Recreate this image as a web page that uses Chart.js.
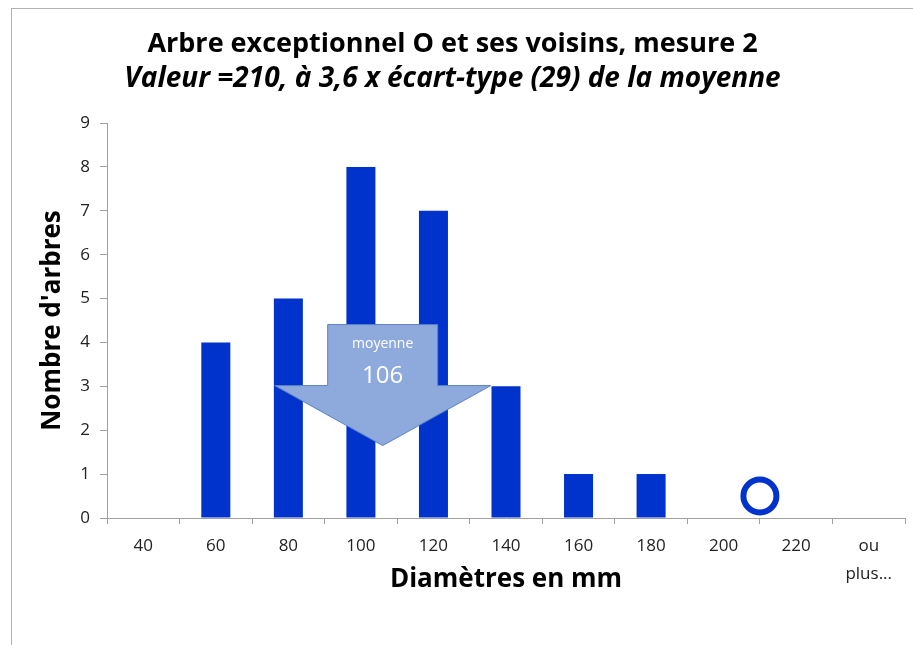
<!DOCTYPE html>
<html lang="fr">
<head>
    <meta charset="utf-8">
    <title>Arbre exceptionnel et ses voisins</title>
    <script src="https://cdn.jsdelivr.net/npm/chart.js"></script>
    <style>
        body { margin: 0; background: #fff; }
        #wrap { width: 913px; height: 645px; }
    </style>
</head>
<body>
<div id="wrap"><canvas id="chartCanvas" width="913" height="645"></canvas></div>
<script>
    // classes de diamètres (mm) et nombre d'arbres par classe
    const classLabels = ['40', '60', '80', '100', '120', '140', '160', '180', '200', '220', ['ou', 'plus...']];
    const treeCounts = [0, 4, 5, 8, 7, 3, 1, 1, 0, 0, 0];
    const yMax = 9;

    // arbre exceptionnel (le rond) et moyenne (la flèche)
    const outlierDiam = 210;
    const outlierY = 0.5;
    const meanDiam = 106;
    const meanArrowTip = 1.65;   // hauteur de la pointe de la flèche, en nombre d'arbres

    // bornes de l'axe continu caché (centres des classes 40..240, pas de 20)
    const diamMin = 30;
    const diamMax = 250;

    const FONT = '"Open Sans", sans-serif';
    const BLUE = '#0033cc';
    const GREY = '#a0a0a0';

    // fond blanc + cadre gris
    const framePlugin = {
        id: 'frame',
        beforeDraw(chart) {
            const ctx = chart.ctx;
            ctx.save();
            ctx.fillStyle = '#fff';
            ctx.fillRect(0, 0, chart.width, chart.height);
            ctx.strokeStyle = '#b0b0b0';
            ctx.lineWidth = 1;
            ctx.strokeRect(11.5, 8.5, chart.width + 10, chart.height + 10);
            ctx.restore();
        }
    };

    // flèche "moyenne" posée sur l'axe continu
    const arrowPlugin = {
        id: 'meanArrow',
        afterDatasetsDraw(chart) {
            const ctx = chart.ctx;
            const tipX = chart.scales.x2.getPixelForValue(meanDiam);
            const tipY = chart.scales.y.getPixelForValue(meanArrowTip);
            const shaftW = 55, headW = 108, headH = 60, totalH = 121;
            ctx.save();
            ctx.beginPath();
            ctx.moveTo(tipX - shaftW, tipY - totalH);
            ctx.lineTo(tipX + shaftW, tipY - totalH);
            ctx.lineTo(tipX + shaftW, tipY - headH);
            ctx.lineTo(tipX + headW, tipY - headH);
            ctx.lineTo(tipX, tipY);
            ctx.lineTo(tipX - headW, tipY - headH);
            ctx.lineTo(tipX - shaftW, tipY - headH);
            ctx.closePath();
            ctx.fillStyle = '#8eaadc';
            ctx.fill();
            ctx.strokeStyle = '#5a80c8';
            ctx.lineWidth = 1;
            ctx.stroke();
            ctx.fillStyle = '#fff';
            ctx.textAlign = 'center';
            ctx.textBaseline = 'middle';
            ctx.font = '14px ' + FONT;
            ctx.fillText('moyenne', tipX, tipY - 102);
            ctx.font = '24px ' + FONT;
            ctx.fillText(String(meanDiam), tipX, tipY - 69);
            ctx.restore();
        }
    };

    const ctx = document.getElementById('chartCanvas').getContext('2d');
    const chart = new Chart(ctx, {
        type: 'bar',
        data: {
            labels: classLabels,
            datasets: [{
                label: "Nombre d'arbres",
                data: treeCounts,
                backgroundColor: BLUE,
                barPercentage: 0.4,
                categoryPercentage: 1,
                grouped: false,
                xAxisID: 'x',
                yAxisID: 'y'
            }, {
                type: 'scatter',
                label: 'Arbre exceptionnel',
                data: [{ x: outlierDiam, y: outlierY }],
                xAxisID: 'x2',
                yAxisID: 'y',
                pointStyle: 'circle',
                pointRadius: 16.5,
                pointHoverRadius: 16.5,
                borderWidth: 6,
                borderColor: BLUE,
                backgroundColor: '#fff'
            }]
        },
        options: {
            responsive: false,
            animation: false,
            events: [],
            layout: { autoPadding: false, padding: { left: 0, right: 8, top: 0, bottom: 40 } },
            plugins: {
                legend: { display: false },
                tooltip: { enabled: false },
                title: {
                    display: true,
                    text: 'Arbre exceptionnel O et ses voisins, mesure 2',
                    color: '#000',
                    font: { family: FONT, size: 27, weight: 'bold', lineHeight: 1.2 },
                    padding: { top: 28, bottom: 0 }
                },
                subtitle: {
                    display: true,
                    text: 'Valeur =210, à 3,6 x écart-type (29) de la moyenne',
                    color: '#000',
                    font: { family: FONT, size: 28, weight: 'bold', style: 'italic', lineHeight: 1.2 },
                    padding: { top: 2, bottom: 27 }
                }
            },
            scales: {
                x: {
                    type: 'category',
                    offset: true,
                    grid: { offset: true, drawOnChartArea: false, color: GREY, tickLength: 6 },
                    border: { color: GREY },
                    ticks: {
                        color: '#222',
                        padding: 9,
                        autoSkip: false,
                        maxRotation: 0,
                        font: { family: FONT, size: 17, lineHeight: 1.6 }
                    },
                    title: {
                        display: true,
                        text: 'Diamètres en mm',
                        color: '#000',
                        font: { family: FONT, size: 26, weight: 'bold', lineHeight: 1.2 },
                        padding: { top: 0, bottom: 10 }
                    },
                    afterFit(scale) {
                        scale.height = 87;
                        scale.paddingLeft = 0;
                        scale.paddingRight = 0;
                    }
                },
                x2: {
                    type: 'linear',
                    display: false,
                    offset: false,
                    grid: { offset: false },
                    min: diamMin,
                    max: diamMax
                },
                y: {
                    min: 0,
                    max: yMax,
                    grid: { drawOnChartArea: false, color: GREY, tickLength: 7 },
                    border: { color: GREY },
                    ticks: {
                        stepSize: 1,
                        color: '#222',
                        padding: 10,
                        font: { family: FONT, size: 17 }
                    },
                    title: {
                        display: true,
                        text: "Nombre d'arbres",
                        color: '#000',
                        font: { family: FONT, size: 26, weight: 'bold', lineHeight: 1.2 },
                        padding: { top: 37, bottom: 0 }
                    },
                    afterFit(scale) { scale.width = 107; }
                }
            }
        },
        plugins: [framePlugin, arrowPlugin]
    });
</script>
</body>
</html>
